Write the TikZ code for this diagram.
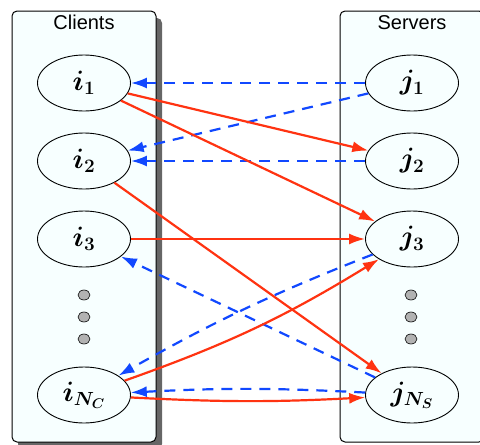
\documentclass[tikz,border=0pt]{standalone}
\usepackage{fix-cm}
\usepackage{amsmath}
\usepackage{fontspec}
\setsansfont{Liberation Sans}
\usetikzlibrary{arrows.meta,shapes.geometric,shadows}

% large labels with small subscripts
\DeclareMathSizes{28}{28}{19}{14}

\definecolor{panelbg}{RGB}{247,255,255}
\definecolor{reqred}{RGB}{255,51,17}
\definecolor{repblue}{RGB}{17,72,255}

\begin{document}
\begin{tikzpicture}[x=1pt,y=-1pt]

% =========================
% Styles
% =========================
\tikzset{
    panel/.style={
        draw=black,
        line width=1pt,
        rounded corners=5pt,
        fill=panelbg,
        minimum width=144pt,
        minimum height=431pt,
        inner sep=0pt
    },
    paneltitle/.style={font=\sffamily\fontsize{20}{24}\selectfont},
    agent/.style={
        ellipse,
        draw,
        line width=0.9pt,
        fill=panelbg,
        minimum width=93pt,
        minimum height=56pt,
        inner sep=0pt,
        font=\fontsize{28}{32}\selectfont
    },
    gapdot/.style={
        ellipse,
        draw,
        line width=0.6pt,
        fill=black!30,
        minimum width=12pt,
        minimum height=10pt,
        inner sep=0pt
    },
    req/.style={draw=reqred, line width=2.2pt, -{Latex[length=16pt,width=11pt]}},
    rep/.style={draw=repblue, line width=2.2pt, dash pattern=on 11pt off 8pt,
        -{Latex[length=16pt,width=11pt]}}
}

\useasboundingbox (0,0) rectangle (480,445);

% =========================
% Geometry
% =========================
\def\cx{84}    % client column
\def\sx{412}   % server column
\def\rA{83}
\def\rB{161}
\def\rC{239}
\def\rN{395}

% =========================
% Panels
% =========================
\node[panel, drop shadow={shadow xshift=6pt, shadow yshift=-7pt,
    fill=black!60, opacity=1}] (clients) at (\cx,226.5) {};
\node[panel] (servers) at (\sx,226.5) {};

\node[paneltitle] (clientstitle) at (\cx,22.5) {Clients};
\node[paneltitle] (serverstitle) at (\sx,22.5) {Servers};

% =========================
% Clients and servers
% =========================
\node[agent] (i1) at (\cx,\rA) {$\boldsymbol{i_1}$};
\node[agent] (i2) at (\cx,\rB) {$\boldsymbol{i_2}$};
\node[agent] (i3) at (\cx,\rC) {$\boldsymbol{i_3}$};
\node[agent] (iN) at (\cx,\rN) {$\boldsymbol{i_{N_C}}$};

\node[agent] (j1) at (\sx,\rA) {$\boldsymbol{j_1}$};
\node[agent] (j2) at (\sx,\rB) {$\boldsymbol{j_2}$};
\node[agent] (j3) at (\sx,\rC) {$\boldsymbol{j_3}$};
\node[agent] (jN) at (\sx,\rN) {$\boldsymbol{j_{N_S}}$};

% vertical ellipsis dots
\foreach \k/\y in {1/295,2/317,3/339} {
    \node[gapdot] (cdot\k) at (\cx,\y) {};
    \node[gapdot] (sdot\k) at (\sx-1,\y) {};
}

% =========================
% Replies (dashed)
% =========================
\draw[rep] (j1) -- (i1);
\draw[rep] (j1) -- (i2);
\draw[rep] (j2) -- (i2);
\draw[rep] (j3) to[bend right=4] (iN);
\draw[rep] (jN) -- (i3);
\draw[rep] (jN) to[bend right=3] (iN);

% =========================
% Requests (solid)
% =========================
\draw[req] (i1) -- (j2);
\draw[req] (i1) -- (j3);
\draw[req] (i2) -- (jN);
\draw[req] (i3) -- (j3);
\draw[req] (iN) to[bend right=6] (j3);
\draw[req] (iN) to[bend right=3] (jN);

\end{tikzpicture}
\end{document}
